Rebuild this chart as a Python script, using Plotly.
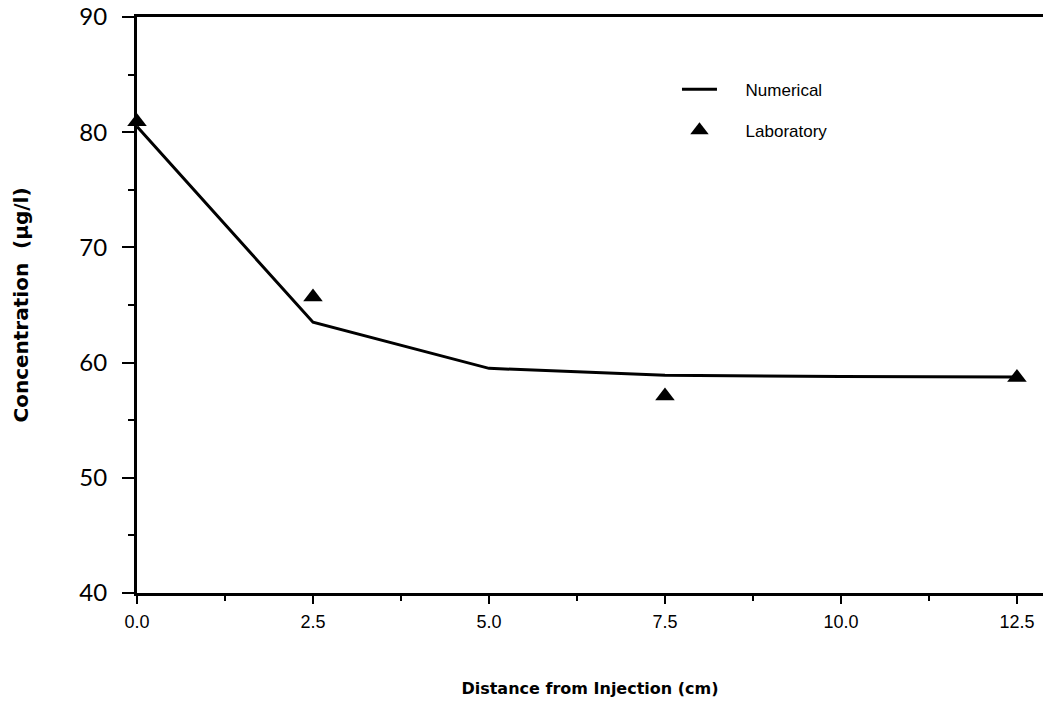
import plotly.graph_objects as go

# Data
num_x = [0.0, 2.5, 5.0, 7.5, 10.0, 12.5]
num_y = [80.5, 63.5, 59.5, 58.9, 58.8, 58.75]
lab_x = [0.0, 2.5, 7.5, 12.5]
lab_y = [80.9, 65.7, 57.1, 58.7]
x_ticks = [0.0, 2.5, 5.0, 7.5, 10.0, 12.5]
x_ticklabels = ["0.0", "2.5", "5.0", "7.5", "10.0", "12.5"]
y_ticks = [40, 50, 60, 70, 80, 90]

PAD = "&nbsp;" * 5

fig = go.Figure()
fig.add_trace(go.Scatter(x=num_x, y=num_y, mode="lines", name=PAD + "Numerical",
                         line=dict(color="black", width=3), legendgroup="a"))
fig.add_trace(go.Scatter(x=lab_x, y=lab_y, mode="markers", name=PAD + "Laboratory",
                         marker=dict(symbol="triangle-up", size=17, color="black"),
                         legendgroup="b", cliponaxis=False))

fig.update_layout(
    width=1043, height=702,
    margin=dict(l=137, r=0, t=17, b=109, autoexpand=False),
    plot_bgcolor="white", paper_bgcolor="white",
    font=dict(family="Liberation Sans, Arial, sans-serif", color="black"),
    legend=dict(x=0.596, y=0.905, xanchor="left", yanchor="top",
                font=dict(size=17, family="Liberation Sans, Arial, sans-serif"),
                itemwidth=35, tracegroupgap=16, traceorder="grouped",
                bgcolor="rgba(0,0,0,0)"),
    xaxis=dict(range=[0, 12.87], tickvals=x_ticks, ticktext=x_ticklabels,
               automargin=False,
               showline=True, linecolor="black", linewidth=3, mirror=True,
               ticks="outside", ticklen=8, tickwidth=2, tickcolor="black",
               showgrid=False, zeroline=False,
               tickfont=dict(size=18, family="Liberation Sans, Arial, sans-serif"),
               ticklabelstandoff=2,
               minor=dict(ticks="outside", ticklen=5, tickwidth=2, tickcolor="black", dtick=1.25, showgrid=False),
               title=dict(text="<b>Distance from Injection (cm)</b>", standoff=53,
                          font=dict(size=16, family="DejaVu Sans, sans-serif"))),
    yaxis=dict(range=[40, 90], tickvals=y_ticks,
               automargin=False,
               showline=True, linecolor="black", linewidth=3,
               ticks="outside", ticklen=12, tickwidth=2, tickcolor="black",
               showgrid=False, zeroline=False,
               tickfont=dict(size=24, family="Lato, DejaVu Sans, sans-serif"),
               ticklabelstandoff=10,
               minor=dict(ticks="outside", ticklen=6, tickwidth=2, tickcolor="black", dtick=5, showgrid=False),
               title=dict(text="<b>Concentration  (µg/l)</b>", standoff=46,
                          font=dict(size=20, family="DejaVu Sans, sans-serif"))),
)

fig.write_html("out.html",
               config={"displayModeBar": False},
               post_script="document.body.style.margin='0';document.body.style.overflow='hidden';")
